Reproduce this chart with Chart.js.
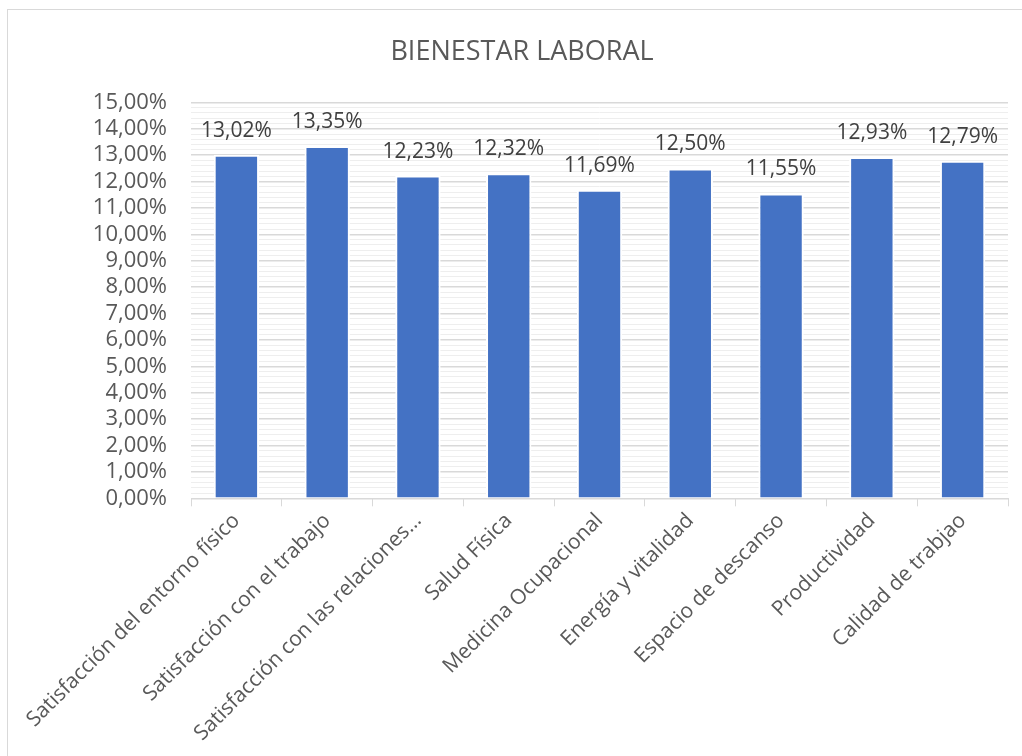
<!DOCTYPE html>
<html>
<head>
<meta charset="utf-8">
<script src="https://cdn.jsdelivr.net/npm/chart.js@4"></script>
<style>
  html, body { margin: 0; padding: 0; background: #fff; }
  #wrap { position: relative; width: 1022px; height: 756px; overflow: hidden; }
  #frame { position: absolute; left: 7px; top: 9px; width: 1100px; height: 800px;
           border-left: 1px solid #d9d9d9; border-top: 1px solid #d9d9d9; }
  #box { position: absolute; left: 0; top: 0; width: 1022px; height: 756px; }
</style>
</head>
<body>
<div id="wrap">
  <div id="frame"></div>
  <div id="box"><canvas id="myChart"></canvas></div>
</div>
<script>
const categories = [
  "Satisfacción del entorno físico",
  "Satisfacción con el trabajo",
  "Satisfacción con las relaciones…",
  "Salud Física",
  "Medicina Ocupacional",
  "Energía y vitalidad",
  "Espacio de descanso",
  "Productividad",
  "Calidad de trabjao",
];
const values = [13.02, 13.35, 12.23, 12.32, 11.69, 12.5, 11.55, 12.93, 12.79];
const yMax = 15;

const fmt = (v) => v.toFixed(2).replace(".", ",") + "%";
const textFont = "'Open Sans', 'Noto Sans', sans-serif";

// simple value labels above the bars (no datalabels plugin offline)
const barLabels = {
  id: "barLabels",
  afterDatasetsDraw(chart) {
    const ctx = chart.ctx;
    const meta = chart.getDatasetMeta(0);
    ctx.save();
    ctx.font = "21px " + textFont;
    ctx.fillStyle = "#404040";
    ctx.textAlign = "center";
    ctx.textBaseline = "alphabetic";
    meta.data.forEach((bar, i) => {
      ctx.fillText(fmt(values[i]), bar.x, bar.y - 18);
    });
    ctx.restore();
  },
};

const isMajor = (v) => Math.abs(v - Math.round(v)) < 1e-6;

const ctx = document.getElementById("myChart").getContext("2d");
const myChart = new Chart(ctx, {
  type: "bar",
  data: {
    labels: categories,
    datasets: [
      {
        data: values,
        backgroundColor: "#4472c4",
        borderColor: "#ffffff",
        borderWidth: 2,
        borderSkipped: "bottom",
        barPercentage: 0.5,
        categoryPercentage: 1,
      },
    ],
  },
  options: {
    responsive: true,
    maintainAspectRatio: false,
    animation: false,
    layout: { padding: { left: 36, right: 14, top: 36, bottom: 8 } },
    plugins: {
      legend: { display: false },
      tooltip: { enabled: false },
      title: {
        display: true,
        text: "BIENESTAR LABORAL",
        color: "#595959",
        font: { family: textFont, size: 27, weight: "normal" },
        padding: { top: 0, bottom: 34 },
      },
    },
    scales: {
      x: {
        grid: {
          offset: true,
          drawOnChartArea: false,
          color: "#d9d9d9",
          tickLength: 8,
        },
        border: { color: "#d9d9d9", width: 1 },
        ticks: {
          color: "#595959",
          font: { family: textFont, size: 21 },
          minRotation: 45,
          maxRotation: 45,
          padding: 2,
          autoSkip: false,
        },
      },
      y: {
        min: 0,
        max: yMax,
        border: { display: false },
        afterFit: (scale) => { scale.width = 155; },
        grid: {
          drawTicks: false,
          color: (c) => (isMajor(c.tick.value) ? "#d9d9d9" : "#eeeeee"),
          lineWidth: (c) => (isMajor(c.tick.value) ? 1.5 : 1),
        },
        ticks: {
          stepSize: 0.2,
          autoSkip: false,
          color: "#595959",
          font: { family: textFont, size: 22 },
          padding: 24,
          callback: (v) => (isMajor(v) ? fmt(Math.round(v)) : ""),
        },
      },
    },
  },
  plugins: [barLabels],
});
</script>
</body>
</html>
